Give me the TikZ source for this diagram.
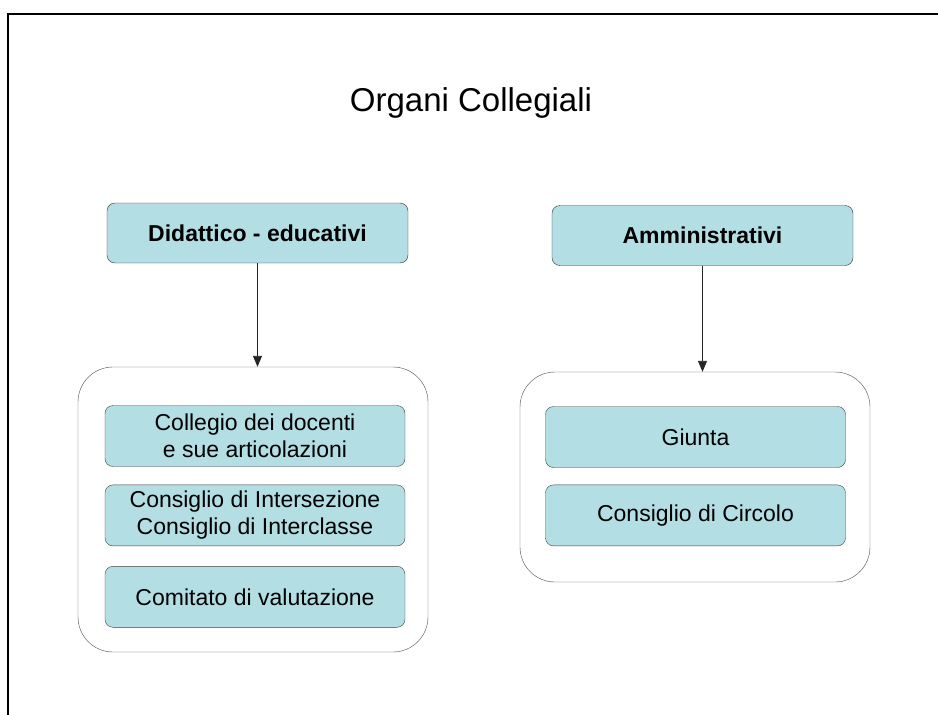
\documentclass[tikz,border=0pt]{standalone}
\usepackage{fontspec}
\setmainfont{Liberation Sans}
\usetikzlibrary{arrows.meta, positioning}
\definecolor{celeste}{RGB}{178,222,228}
\tikzstyle{titolo} = [font=\fontsize{23}{27}\selectfont\bfseries, draw=black!80, fill=celeste, rounded corners=8pt, minimum width=301pt, minimum height=60pt]
\tikzstyle{voce} = [font=\fontsize{23}{27}\selectfont, draw=black!75, fill=celeste, rounded corners=8pt, minimum width=300pt, minimum height=61pt, align=center, inner sep=0pt]
\tikzstyle{gruppo} = [draw=black!70, rounded corners=35pt, inner sep=0pt]
\tikzstyle{freccia} = [-{Triangle[width=9pt,length=11pt]}, black!85, line width=0.9pt]

\begin{document}
\begin{tikzpicture}[x=1pt,y=-1pt]
	\useasboundingbox (0,0) rectangle (938,715);
	\draw[line width=2pt] (8,715) -- (8,14) -- (938,14);
	\node[font=\fontsize{33}{38}\selectfont, anchor=base] (titoloOrgani) at (471,111) {Organi Collegiali};
	% ramo didattico
	\node[titolo] (didattico) at (257.5,233) {Didattico - educativi};
	\node[gruppo, minimum width=350pt, minimum height=285pt] (gruppoDid) at (253,509.5) {};
	\node[voce] (collegio) at (255,436) {Collegio dei docenti\\ e sue articolazioni};
	\node[voce, below=18pt of collegio] (consigli) {Consiglio di Intersezione\\Consiglio di Interclasse};
	\node[voce, below=20pt of consigli] (comitato) {Comitato di valutazione};
	\draw[freccia] (didattico.south) -- (didattico.south |- gruppoDid.north);
	% ramo amministrativo
	\node[titolo] (amministrativi) at (702.5,235.5) {Amministrativi};
	\node[gruppo, minimum width=350pt, minimum height=210pt] (gruppoAmm) at (695,477) {};
	\node[voce] (giunta) at (695.5,437) {Giunta};
	\node[voce, below=17pt of giunta] (circolo) {Consiglio di Circolo};
	\draw[freccia] (amministrativi.south) -- (amministrativi.south |- gruppoAmm.north);
\end{tikzpicture}
\end{document}
